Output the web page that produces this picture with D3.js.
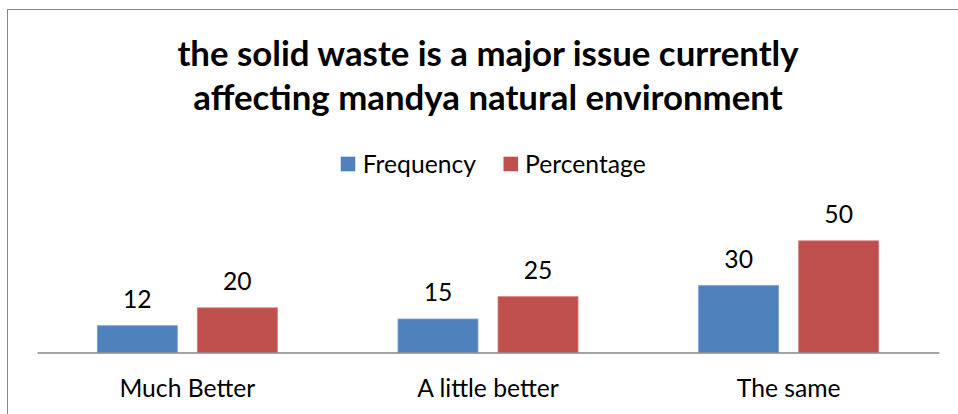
<!DOCTYPE html>
<html>
<head>
<meta charset="utf-8">
<script src="https://cdn.jsdelivr.net/npm/d3@7/dist/d3.min.js"></script>
<style>
  html, body { margin: 0; padding: 0; background: #fff; }
  svg { display: block; }
</style>
</head>
<body>
<svg id="chart" width="958" height="414"></svg>
<script>
const categories = ["Much Better", "A little better", "The same"];
const seriesNames = ["Frequency", "Percentage"];
const frequency = [12, 15, 30];
const percentage = [20, 25, 50];
const titleLines = ["the solid waste is a major issue currently", "affecting mandya natural environment"];
const colors = ["#4F81BD", "#C0504D"];
const strokes = ["#7FA3D1", "#D07D7B"];

const FONT = "Lato, 'Open Sans', sans-serif";
const svg = d3.select("#chart");

// chart border
svg.append("rect")
  .attr("x", 7.5).attr("y", 9.5)
  .attr("width", 962).attr("height", 420)
  .attr("fill", "#fff")
  .attr("stroke", "#888888")
  .attr("stroke-width", 1);

// title
const title = svg.append("text")
  .attr("text-anchor", "middle")
  .attr("font-family", FONT)
  .attr("font-weight", "bold")
  .attr("font-size", 34.8)
  .attr("fill", "#000");
titleLines.forEach((t, i) => {
  title.append("tspan").attr("x", 488).attr("y", 66 + i * 44).text(t);
});

// scales
const x0 = d3.scaleBand().domain(categories).range([37, 939]).paddingInner(0).paddingOuter(0);
const x1 = d3.scaleBand().domain(seriesNames).range([0, x0.bandwidth()]).paddingInner(0.2).paddingOuter(0.603);
const y = d3.scaleLinear().domain([0, 60]).range([352.5, 218.5]);

const data = categories.map((c, i) => ({
  cat: c,
  vals: [
    { s: seriesNames[0], v: frequency[i], k: 0 },
    { s: seriesNames[1], v: percentage[i], k: 1 }
  ]
}));

const groups = svg.append("g").selectAll("g")
  .data(data).join("g")
  .attr("transform", d => `translate(${x0(d.cat)},0)`);

groups.selectAll("rect")
  .data(d => d.vals).join("rect")
  .attr("x", d => x1(d.s))
  .attr("y", d => y(d.v))
  .attr("width", x1.bandwidth())
  .attr("height", d => y(0) - y(d.v))
  .attr("fill", d => colors[d.k])
  .attr("stroke", d => strokes[d.k])
  .attr("stroke-width", 0.8);

groups.selectAll("text.lbl")
  .data(d => d.vals).join("text")
  .attr("class", "lbl")
  .attr("x", d => x1(d.s) + x1.bandwidth() / 2)
  .attr("y", d => y(d.v) - 18)
  .attr("text-anchor", "middle")
  .attr("font-family", FONT)
  .attr("font-size", 24.7)
  .attr("fill", "#000")
  .text(d => d.v);

// x axis
const axis = svg.append("g")
  .attr("transform", `translate(0,${y(0)})`)
  .call(d3.axisBottom(x0).tickSize(0).tickSizeOuter(0));
axis.select(".domain").attr("stroke", "#868686").attr("stroke-width", 1.6);
axis.selectAll(".tick text")
  .attr("y", 44.2).attr("dy", 0)
  .attr("font-family", FONT)
  .attr("font-size", 24.7)
  .attr("fill", "#000");

// legend
const legendItems = [
  { name: seriesNames[0], sx: 340.7, tx: 362.7 },
  { name: seriesNames[1], sx: 503.5, tx: 525 }
];
const legend = svg.append("g");
legendItems.forEach((it, i) => {
  legend.append("rect")
    .attr("x", it.sx).attr("y", 156.7)
    .attr("width", 14.6).attr("height", 14.6)
    .attr("fill", colors[i]);
  legend.append("text")
    .attr("x", it.tx).attr("y", 172.5)
    .attr("font-family", FONT)
    .attr("font-size", 24.7)
    .attr("fill", "#000")
    .text(it.name);
});
</script>
</body>
</html>
